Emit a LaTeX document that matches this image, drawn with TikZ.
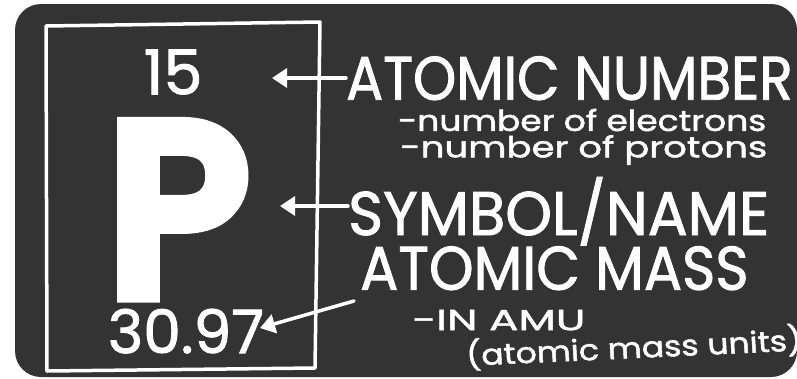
\documentclass[tikz,border=0pt]{standalone}
\usepackage{fontspec}
\setmainfont{Poppins}[FakeBold=1.5]
\newfontfamily\heavyfont{Poppins}[FakeBold=9]
\usetikzlibrary{arrows.meta,positioning}

\definecolor{board}{HTML}{333333}
\tikzset{
  chalk/.style={white,line width=3.5pt,line cap=round,line join=round},
  chalkarrow/.style={chalk,-{Triangle[width=19pt,length=15pt]}},
  bigtext/.style={white,anchor=west,inner sep=0pt,text depth=0pt,yscale=1.12,font=\fontsize{55}{55}\selectfont},
  smalltext/.style={white,anchor=west,inner sep=0pt,font=\fontsize{29}{29}\selectfont},
}

\begin{document}
\begin{tikzpicture}[x=1pt,y=-1pt]
  \useasboundingbox (0,0) rectangle (797,378);
  % Board
  \fill[white] (0,0) rectangle (797,378);
  \fill[board,rounded corners=26pt] (15,4) rectangle (797,377);
  % Element box
  \draw[chalk] (46,26) -- (320,22) -- (315,368) -- (47,371) -- cycle;
  \node[white,inner sep=0pt,font=\fontsize{62}{62}\selectfont] (num) at (173,72) {15};
  \node[white,inner sep=0pt,anchor=base,text depth=0pt,text height=180pt,
        font=\fontsize{236}{236}\heavyfont] (sym) at (178,292) {P};
  \node[white,inner sep=0pt,text depth=0pt,font=\fontsize{60}{60}\selectfont] (mass) at (186,331) {30.97};
  % Labels
  \node[bigtext] (anum) at (346,78) {ATOMIC NUMBER};
  \node[smalltext,xscale=1.19] (elec) at (398,120) {-number of electrons};
  \node[smalltext,xscale=1.28] (prot) at (400,150) {-number of protons};
  \node[bigtext,xscale=1.08] (symname) at (348,206) {SYMBOL/NAME};
  \node[bigtext,xscale=1.03] (amass) at (360,268) {ATOMIC MASS};
  \node[smalltext,xscale=1.5,text depth=0pt] (amu) at (412,320) {-IN AMU};
  \node[smalltext,xscale=1.14,rotate=3] (units) at (466,355) {(atomic mass units)};
  % Arrows
  \coordinate (numtip) at (272,0);
  \coordinate (symtip) at (280,0);
  \coordinate (masstip) at (260,328);
  \draw[chalkarrow] (anum.west) -- (anum.west -| numtip);
  \draw[chalkarrow] (symname.west) -- (symname.west -| symtip);
  \draw[chalkarrow] ([xshift=-6pt,yshift=-11pt]amass.south west) -- (masstip);
\end{tikzpicture}
\end{document}
